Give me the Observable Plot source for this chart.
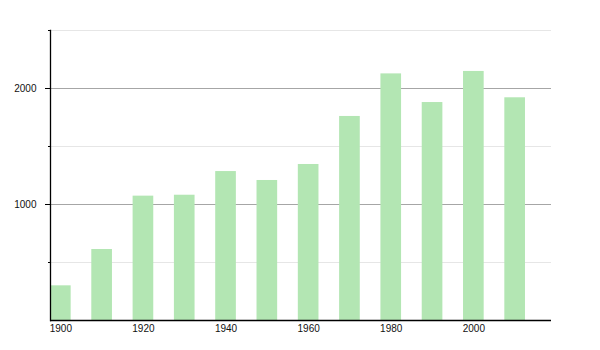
<!DOCTYPE html>
<html><head><meta charset="utf-8">
<script src="https://cdn.jsdelivr.net/npm/d3@7"></script>
<script src="https://cdn.jsdelivr.net/npm/@observablehq/plot@0.6"></script>
<style>body{margin:0;background:#fff}</style>
</head><body><div id="chart"></div>
<script>
const years = [1900, 1910, 1920, 1930, 1940, 1950, 1960, 1970, 1980, 1990, 2000, 2010];
const population = [299, 612, 1072, 1080, 1284, 1207, 1345, 1759, 2126, 1879, 2147, 1920];
const xTickYears = [1900, 1920, 1940, 1960, 1980, 2000];
const majorTicks = [1000, 2000];
const minorTicks = [500, 1500, 2500];

const data = years.map((year, i) => ({year, population: population[i]}));

const chart = Plot.plot({
  width: 600, height: 350,
  marginTop: 30, marginBottom: 30, marginLeft: 50, marginRight: 49,
  style: {fontFamily: "'Liberation Sans', Arial, sans-serif", fontSize: "10px", color: "#111", background: "#fff"},
  x: {type: "band", domain: years, paddingInner: 0.5, paddingOuter: 0.315, align: 0, round: false},
  y: {domain: [0, 2500]},
  marks: [
    Plot.gridY(minorTicks, {stroke: "#e6e6e6", strokeOpacity: 1}),
    Plot.gridY(majorTicks, {stroke: "#a6a6a6", strokeOpacity: 1}),
    Plot.barY(data, {x: "year", y: "population", fill: "#b3e6b3"}),
    Plot.axisY(majorTicks, {tickSize: 5, tickPadding: 9, tickFormat: "d", label: null, stroke: "#000"}),
    Plot.axisY(minorTicks, {tickSize: 2, tickFormat: () => "", label: null, stroke: "#000"}),
    Plot.axisX(xTickYears, {tickSize: 0, tickPadding: 4, tickFormat: "d", label: null}),
    Plot.ruleY([0], {stroke: "#000", strokeWidth: 1.3}),
    Plot.frame({anchor: "left", stroke: "#000", strokeWidth: 1.3})
  ]
});
document.getElementById("chart").append(chart);
</script>
</body></html>
